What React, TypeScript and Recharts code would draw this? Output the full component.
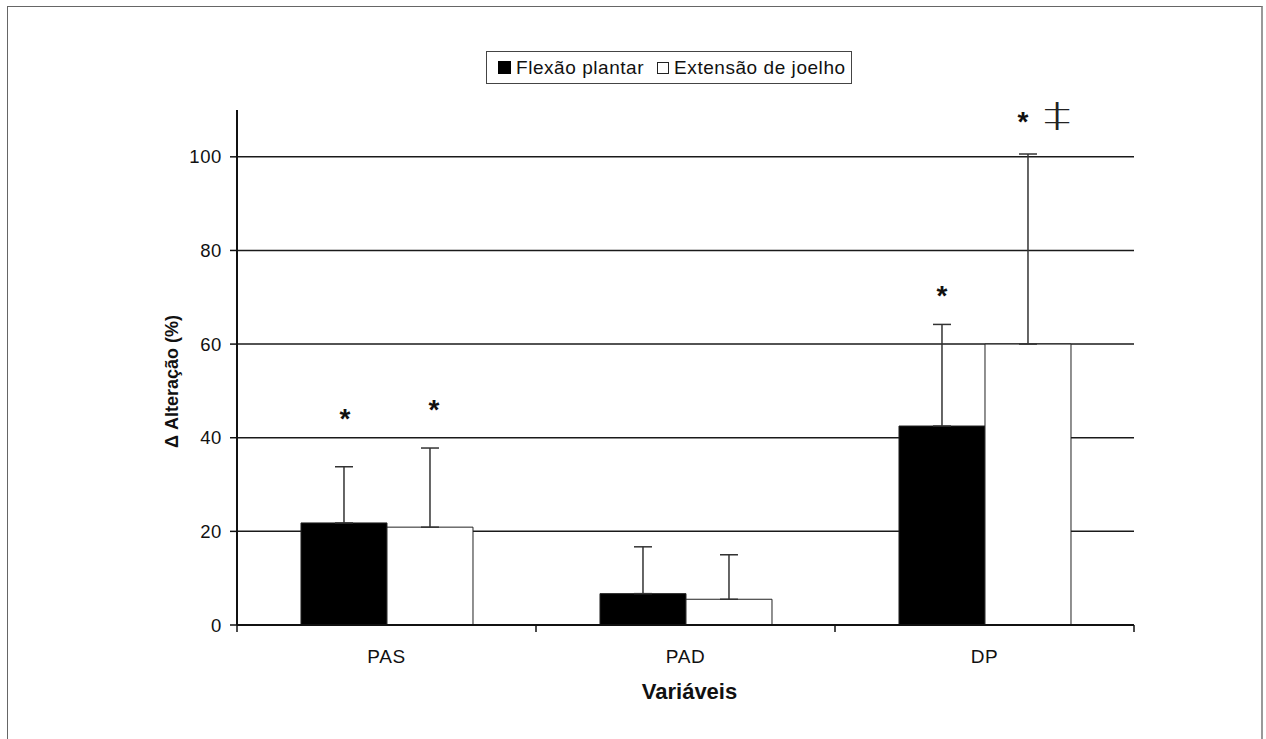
import React from 'react';
import { BarChart, Bar, XAxis, YAxis, CartesianGrid, ErrorBar, LabelList, Legend, Label } from 'recharts';

const categories = ['PAS', 'PAD', 'DP'];
const flexaoValues = [21.8, 6.7, 42.5];
const flexaoErrors = [12.0, 10.0, 21.7];
const extensaoValues = [20.9, 5.5, 60.0];
const extensaoErrors = [16.9, 9.5, 40.6];
const flexaoMarks = ['*', '', '*'];
const flexaoMarkAt = [45.4, 0, 71.6];
const extensaoMarks = ['*', '', '*‡'];
const extensaoMarkAt = [47.3, 0, 108.9];
const yTicks = [0, 20, 40, 60, 80, 100];
const gridValues = [20, 40, 60, 80, 100];
const seriesNames = ['Flexão plantar', 'Extensão de joelho'];
const yLabel = 'Δ Alteração (%)';
const xLabel = 'Variáveis';

const FONT = '"Liberation Sans", Arial, sans-serif';

const makeMarkRenderer = (values: number[], marks: string[], at: number[], starDx: number[]) => (props: any) => {
  const vb = props.viewBox || props;
  const { x, y, width, height } = vb;
  const index = props.index;
  const mark = marks[index];
  if (!mark) return null;
  const v = values[index];
  const ppu = height / v;
  const base = y + height;
  const cy = base - at[index] * ppu;
  const cx = x + width / 2 + starDx[index];
  const fs = 28;
  const hasDagger = mark.includes('‡');
  return (
    <g>
      <text x={cx} y={cy + 0.56 * fs} textAnchor="middle" fontSize={fs} fontWeight="bold" fontFamily={FONT} fill="#111">*</text>
      {hasDagger && (
        <text transform={`translate(${cx + 34}, ${cy + 12}) scale(1.6, 1)`} textAnchor="middle" fontSize={34} fontWeight={200} fontFamily='"DejaVu Sans", sans-serif' fill="#222">‡</text>
      )}
    </g>
  );
};

const flexaoMarkRenderer = makeMarkRenderer(flexaoValues, flexaoMarks, flexaoMarkAt, [1, 0, 0]);
const extensaoMarkRenderer = makeMarkRenderer(extensaoValues, extensaoMarks, extensaoMarkAt, [4, 0, -5]);

const CatTick = (props: any) => {
  const { x, y, payload, index, visibleTicksCount } = props;
  const half = payload && typeof payload.offset === 'number' && payload.offset > 0 ? payload.offset : 149.5;
  const axisY = y - 8;
  const isLast = index === (visibleTicksCount ?? categories.length) - 1;
  return (
    <g>
      <line x1={x - half} y1={axisY} x2={x - half} y2={axisY + 7} stroke="#111" strokeWidth={1.5} />
      {isLast && <line x1={x + half} y1={axisY} x2={x + half} y2={axisY + 7} stroke="#111" strokeWidth={1.5} />}
      <text x={x} y={y + 30} textAnchor="middle" fontSize={19} letterSpacing={0.6} fontFamily={FONT} fill="#111">
        {payload.value}
      </text>
    </g>
  );
};

const XLabelContent = (props: any) => {
  const vb = props.viewBox;
  return (
    <text x={vb.x + vb.width / 2 + 4} y={vb.y + 74} textAnchor="middle" fontSize={22} fontWeight="bold" fontFamily={FONT} fill="#111">
      {xLabel}
    </text>
  );
};

const YLabelContent = (props: any) => {
  const vb = props.viewBox;
  const cx = vb.x + vb.width - 65;
  const cy = vb.y + vb.height / 2 + 14;
  return (
    <text x={cx} y={cy} transform={`rotate(-90, ${cx}, ${cy})`} textAnchor="middle" dominantBaseline="central" fontSize={18} fontWeight="bold" fontFamily={FONT} fill="#111">
      {yLabel}
    </text>
  );
};

const LegendContent = () => (
  <div style={{ boxSizing: 'border-box', width: 366, height: 33, border: '1.5px solid #444', display: 'flex', alignItems: 'center', paddingLeft: 11, fontFamily: FONT, fontSize: 19, letterSpacing: 0.55, color: '#111', background: '#fff', whiteSpace: 'nowrap' }}>
    <span style={{ display: 'inline-block', width: 13, height: 13, background: '#000', marginRight: 5 }} />
    <span>{seriesNames[0]}</span>
    <span style={{ display: 'inline-block', boxSizing: 'border-box', width: 12, height: 12, background: '#fff', border: '1px solid #222', marginLeft: 13, marginRight: 5 }} />
    <span>{seriesNames[1]}</span>
  </div>
);

export default function App() {
  const data = categories.map((c, i) => ({
    cat: c,
    flexao: flexaoValues[i],
    flexaoErr: [0, flexaoErrors[i]],
    extensao: extensaoValues[i],
    extensaoErr: [0, extensaoErrors[i]],
  }));
  return (
    <div style={{ position: 'absolute', left: 0, top: 0, width: 1266, height: 739, background: '#fff', overflow: 'hidden', fontFamily: FONT }}>
      <div style={{ position: 'absolute', left: 7, top: 6, width: 1256, height: 733, boxSizing: 'border-box', borderTop: '1.5px solid #666', borderLeft: '1.5px solid #666', borderRight: '2px solid #999' }} />
      <div style={{ position: 'absolute', left: 0, top: 0 }}>
        <BarChart width={1266} height={739} data={data} margin={{ top: 110, right: 132, bottom: 54, left: 0 }} barCategoryGap="21.4%" barGap={0}>
          <CartesianGrid xAxisId="cat" yAxisId="y" vertical={false} horizontalValues={gridValues} stroke="#1a1a1a" strokeWidth={1.5} />
          <XAxis xAxisId="cat" dataKey="cat" type="category" axisLine={{ stroke: '#111', strokeWidth: 2 }} tickLine={false} tickSize={6} tickMargin={2} height={60} tick={<CatTick />} interval={0}>
            <Label content={XLabelContent} />
          </XAxis>
          <YAxis yAxisId="y" type="number" domain={[0, 110]} ticks={yTicks} width={237} tickSize={7} tickMargin={8} axisLine={{ stroke: '#111', strokeWidth: 2 }} tickLine={{ stroke: '#111', strokeWidth: 1.5 }} tick={{ fontSize: 18.5, fill: '#111', fontFamily: FONT, letterSpacing: 0.6 }}>
            <Label content={YLabelContent} />
          </YAxis>
          <Legend layout="vertical" align="center" verticalAlign="middle" wrapperStyle={{ position: 'absolute', left: 486, top: 51, width: 366, height: 33 }} content={LegendContent} />
          <Bar xAxisId="cat" yAxisId="y" dataKey="flexao" name={seriesNames[0]} fill="#000" stroke="#222" strokeWidth={1} isAnimationActive={false}>
            <ErrorBar dataKey="flexaoErr" direction="y" width={9} stroke="#333" strokeWidth={1.5} isAnimationActive={false} />
            <LabelList dataKey="flexao" content={flexaoMarkRenderer} />
          </Bar>
          <Bar xAxisId="cat" yAxisId="y" dataKey="extensao" name={seriesNames[1]} fill="#fff" stroke="#222" strokeWidth={1} isAnimationActive={false}>
            <ErrorBar dataKey="extensaoErr" direction="y" width={9} stroke="#333" strokeWidth={1.5} isAnimationActive={false} />
            <LabelList dataKey="extensao" content={extensaoMarkRenderer} />
          </Bar>
        </BarChart>
      </div>
    </div>
  );
}
